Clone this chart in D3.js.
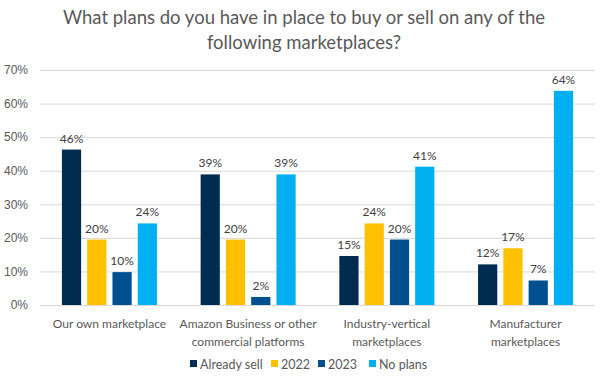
<!DOCTYPE html>
<html>
<head>
<meta charset="utf-8">
<script src="https://cdn.jsdelivr.net/npm/d3@7"></script>
<style>
  body { margin: 0; background: #fff; }
  svg { font-family: Lato, "Open Sans", sans-serif; }
</style>
</head>
<body>
<svg id="chart" width="600" height="379"></svg>
<script>
const categories = [
    ["Our own marketplace"],
    ["Amazon Business or other", "commercial platforms"],
    ["Industry-vertical", "marketplaces"],
    ["Manufacturer", "marketplaces"]
];
const seriesNames = ["Already sell", "2022", "2023", "No plans"];
const alreadySell = [46.3, 38.9, 14.6, 12.1];
const plans2022 = [19.5, 19.5, 24.3, 16.9];
const plans2023 = [9.8, 2.4, 19.5, 7.3];
const noPlans = [24.3, 38.9, 41.2, 63.8];
const yTicks = [0, 10, 20, 30, 40, 50, 60, 70];
const colors = ["#002D4F", "#FFC000", "#00508F", "#00B0F0"];

const buildVis = (svg_name) => {
    let chart = d3.select(svg_name);
    let margin = {left: 40, right: 5, top: 70, bottom: 74};
    let chart_width = +chart.attr("width");
    let chart_height = +chart.attr("height");
    let series = [alreadySell, plans2022, plans2023, noPlans];

    let y = d3.scaleLinear()
        .domain([0, 70])
        .range([chart_height - margin.bottom, margin.top]);
    let x0 = d3.scaleBand()
        .domain(d3.range(categories.length))
        .range([margin.left, chart_width - margin.right])
        .paddingInner(0.315).paddingOuter(0.158);
    let x1 = d3.scaleBand()
        .domain(d3.range(seriesNames.length))
        .range([0, x0.bandwidth()])
        .paddingInner(0.24);

    // title
    chart.append("text")
        .attr("x", 304).attr("y", 24)
        .attr("text-anchor", "middle")
        .attr("font-size", 18.5).attr("fill", "#595959")
        .selectAll("tspan")
        .data(["What plans do you have in place to buy or sell on any of the", "following marketplaces?"])
        .enter().append("tspan")
        .attr("x", 304).attr("dy", (d, i) => i == 0 ? 0 : 25)
        .text(d => d);

    // gridlines + y labels
    let y_axis = d3.axisLeft(y).tickValues(yTicks)
        .tickFormat(d => d + "%")
        .tickSize(-(chart_width - margin.left - margin.right))
        .tickPadding(8);
    let gy = chart.append("g").attr("transform", "translate(" + margin.left + ",0)").call(y_axis);
    gy.select(".domain").remove();
    gy.selectAll("line").attr("stroke", "#d9d9d9");
    gy.selectAll("text").attr("fill", "#595959").attr("font-size", 12).attr("x", -12).attr("text-anchor", "end");

    // bars
    let groups = chart.selectAll(".grp")
        .data(categories)
        .enter().append("g")
        .attr("transform", (d, i) => "translate(" + x0(i) + ",0)");
    groups.each(function (d, ci) {
        let g = d3.select(this);
        let vals = series.map(s => s[ci]);
        g.selectAll("rect").data(vals).enter().append("rect")
            .attr("x", (v, si) => x1(si))
            .attr("y", v => y(v))
            .attr("width", x1.bandwidth())
            .attr("height", v => y(0) - y(v))
            .attr("fill", (v, si) => colors[si]);
        g.selectAll(".lbl").data(vals).enter().append("text")
            .attr("x", (v, si) => x1(si) + x1.bandwidth() / 2)
            .attr("y", v => y(v) - 7)
            .attr("text-anchor", "middle")
            .attr("font-size", 12).attr("fill", "#404040")
            .text(v => Math.round(v) + "%");
    });

    // category labels
    let catText = chart.selectAll(".cat")
        .data(categories)
        .enter().append("text")
        .attr("text-anchor", "middle")
        .attr("font-size", 12).attr("fill", "#595959")
        .attr("y", 328);
    catText.selectAll("tspan").data((d, i) => d.map(t => ({t: t, i: i})))
        .enter().append("tspan")
        .attr("x", d => x0(d.i) + x0.bandwidth() / 2)
        .attr("dy", (d, j) => j == 0 ? 0 : 18)
        .text(d => d.t);

    // legend
    let legendX = [190, 271, 318, 369];
    let lg = chart.selectAll(".leg").data(seriesNames).enter().append("g")
        .attr("transform", (d, i) => "translate(" + legendX[i] + ",364)");
    lg.append("rect").attr("x", 0).attr("y", -4).attr("width", 7).attr("height", 7)
        .attr("fill", (d, i) => colors[i]);
    lg.append("text").attr("x", 10).attr("y", 4.5)
        .attr("font-size", 12.5).attr("fill", "#595959")
        .text(d => d);
}

buildVis("#chart");
</script>
</body>
</html>
